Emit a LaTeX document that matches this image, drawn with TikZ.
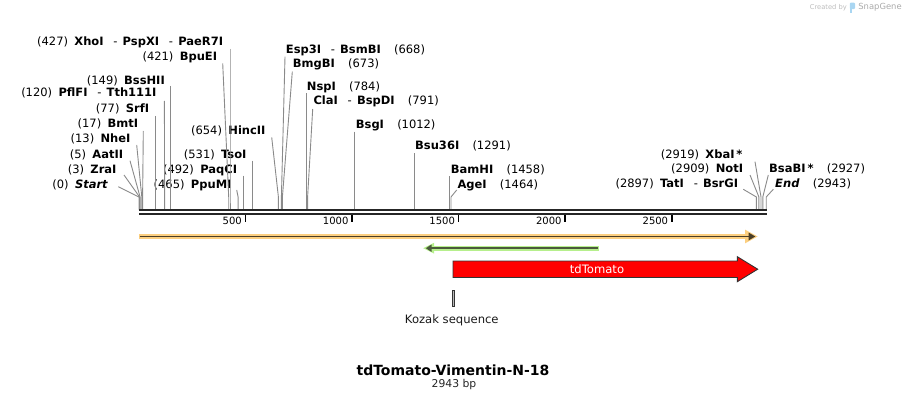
\documentclass[tikz,border=0pt]{standalone}
\usepackage{fontspec}
\setmainfont{DejaVu Sans}
\definecolor{linegray}{HTML}{8A8A8A}
\definecolor{bbcol}{HTML}{262626}
\definecolor{orlight}{HTML}{FCCF80}
\definecolor{ordark}{HTML}{4A3E28}
\definecolor{grlight}{HTML}{B6EF8C}
\definecolor{grdark}{HTML}{4B5A3C}
\definecolor{arrowedge}{HTML}{333333}
\definecolor{wmgray}{HTML}{BDBDBD}
\definecolor{logoblue}{HTML}{A9D6F2}
\newcommand\lgap{\hspace{0.55em}}
\newcommand\rgap{\hspace{1.15em}}
\newcommand\mydash{\hspace{0.85em}-\hspace{0.45em}}
\begin{document}
\begin{tikzpicture}[x=1pt,y=-1pt,
  lab/.style={inner sep=0pt, font=\fontsize{11.5}{13}\selectfont, text height=8.4pt, text depth=2pt},
  labL/.style={lab, anchor=east},
  labR/.style={lab, anchor=west},
  conn/.style={draw=linegray, line width=0.9pt},
  tickmark/.style={draw=black, line width=1.5pt},
  ticklab/.style={inner sep=0pt, anchor=east, font=\fontsize{10}{12}\selectfont},
  plain/.style={inner sep=0pt},
]
\useasboundingbox (0,0) rectangle (907,401);

% stub positions (bp -> x)
\foreach \n/\x in {0/139.0,3/139.6,5/140.1,13/141.8,17/142.6,77/155.4,120/164.6,149/170.8,
  421/228.7,427/230.0,465/238.1,492/243.8,531/252.2,654/278.4,668/281.4,673/282.4,
  784/306.1,791/307.6,1012/354.7,1291/414.1,1458/449.7,1464/451.0,
  2897/756.4,2909/758.9,2919/761.0,2927/762.8,2943/766.2}{
  \coordinate (t\n) at (\x,197);
  \coordinate (b\n) at (\x,209.5);
}

% labels (left of their lines)
\node[labL] (l427) at (223.3,42.7) {(427)\lgap\textbf{XhoI}\mydash\textbf{PspXI}\mydash\textbf{PaeR7I}};
\node[labL] (l421) at (217.3,57.7) {(421)\lgap\textbf{BpuEI}};
\node[labL] (l149) at (165.0,81.0) {(149)\lgap\textbf{BssHII}};
\node[labL] (l120) at (156.7,93.3) {(120)\lgap\textbf{PflFI}\mydash\textbf{Tth111I}};
\node[labL] (l77) at (149.3,109.3) {(77)\lgap\textbf{SrfI}};
\node[labL] (l17) at (138.3,124.7) {(17)\lgap\textbf{BmtI}};
\node[labL] (l13) at (130.7,139.3) {(13)\lgap\textbf{NheI}};
\node[labL] (l5) at (123.3,155.0) {(5)\lgap\textbf{AatII}};
\node[labL] (l3) at (116.7,170.0) {(3)\lgap\textbf{ZraI}};
\node[labL] (l0) at (108.3,185.0) {(0)\lgap\textbf{\itshape Start}};
\node[labL] (l654) at (265.7,131.7) {(654)\lgap\textbf{HincII}};
\node[labL] (l531) at (246.7,155.0) {(531)\lgap\textbf{TsoI}};
\node[labL] (l492) at (237.3,170.0) {(492)\lgap\textbf{PaqCI}};
\node[labL] (l465) at (231.7,185.0) {(465)\lgap\textbf{PpuMI}};
\node[labL] (l2919) at (742.7,155.0) {(2919)\lgap\textbf{XbaI\,*}};
\node[labL] (l2909) at (743.3,169.3) {(2909)\lgap\textbf{NotI}};
\node[labL] (l2897) at (738.3,184.0) {(2897)\lgap\textbf{TatI}\mydash\textbf{BsrGI}};

% labels (right of their lines)
\node[labR] (l668) at (285.7,50.0) {\textbf{Esp3I}\mydash\textbf{BsmBI}\rgap(668)};
\node[labR] (l673) at (292.7,64.3) {\textbf{BmgBI}\rgap(673)};
\node[labR] (l784) at (306.7,87.7) {\textbf{NspI}\rgap(784)};
\node[labR] (l791) at (313.3,101.7) {\textbf{ClaI}\mydash\textbf{BspDI}\rgap(791)};
\node[labR] (l1012) at (355.7,125.7) {\textbf{BsgI}\rgap(1012)};
\node[labR] (l1291) at (415.0,146.7) {\textbf{Bsu36I}\rgap(1291)};
\node[labR] (l1458) at (450.7,170.0) {\textbf{BamHI}\rgap(1458)};
\node[labR] (l1464) at (457.3,185.0) {\textbf{AgeI}\rgap(1464)};
\node[labR] (l2927) at (769.0,169.3) {\textbf{BsaBI\,*}\rgap(2927)};
\node[labR] (l2943) at (775.0,184.0) {\textbf{\itshape End}\rgap(2943)};

% connector start points near labels
\coordinate (s427) at (230.0,49.0);
\coordinate (s421) at (222.7,63.3);
\coordinate (s149) at (170.8,86.0);
\coordinate (s120) at (164.4,101.0);
\coordinate (s77) at (155.4,116.0);
\coordinate (s17) at (143.3,131.0);
\coordinate (s13) at (136.7,145.0);
\coordinate (s5) at (130.0,160.7);
\coordinate (s3) at (124.0,175.0);
\coordinate (s0) at (118.3,186.7);
\coordinate (s654) at (271.7,137.3);
\coordinate (s531) at (252.2,160.7);
\coordinate (s492) at (243.8,175.7);
\coordinate (s465) at (236.7,190.0);
\coordinate (s668) at (285.0,56.7);
\coordinate (s673) at (292.3,71.7);
\coordinate (s784) at (306.1,93.3);
\coordinate (s791) at (312.7,109.0);
\coordinate (s1012) at (354.7,131.7);
\coordinate (s1291) at (414.1,153.3);
\coordinate (s1458) at (449.7,176.0);
\coordinate (s1464) at (456.7,190.0);
\coordinate (s2919) at (755.0,161.7);
\coordinate (s2909) at (750.0,175.0);
\coordinate (s2897) at (743.3,189.3);
\coordinate (s2927) at (768.3,175.0);
\coordinate (s2943) at (773.3,189.3);

\foreach \n in {0,3,5,13,17,77,120,149,421,427,465,492,531,654,668,673,784,791,1012,1291,1458,1464,2897,2909,2919,2927,2943}{
  \draw[conn] (s\n) -- (t\n) -- (b\n);
}

% backbone
\coordinate (bbL) at (139,210);
\coordinate (bbR) at (766.8,210);
\draw[draw=bbcol, line width=2pt] (bbL) -- (bbR);
\draw[draw=bbcol, line width=2.2pt] ([yshift=-3.9pt]bbL) -- ([yshift=-3.9pt]bbR);

% ruler ticks
\foreach \v/\x in {500/245.5,1000/352.1,1500/458.6,2000/565.2,2500/671.8}{
  \draw[tickmark] (\x,215) -- (\x,222.3);
  \node[ticklab] at (\x-3.5,220.7) {\v};
}

% orange full-length feature
\fill[orlight] (139,234.0) rectangle (749,239.0);
\fill[orlight] (745,229.6) -- (757.6,236.5) -- (745,243.4) -- cycle;
\draw[draw=ordark, line width=1.7pt] (139.5,236.5) -- (750,236.5);
\fill[ordark] (748.5,232.5) -- (755.3,236.5) -- (748.5,240.5) -- cycle;

% green reverse feature
\fill[grlight] (430,245.7) rectangle (599,250.7);
\fill[grlight] (434,242.8) -- (423.2,248.2) -- (434,253.6) -- cycle;
\draw[draw=grdark, line width=1.7pt] (429,248.2) -- (597.6,248.2);
\fill[grdark] (431.5,244.5) -- (425.8,248.2) -- (431.5,251.9) -- cycle;

% tdTomato arrow
\draw[fill=red, draw=arrowedge, line width=0.9pt]
  (453,261) -- (737.3,261) -- (737.3,256.7) -- (757.7,269.2) -- (737.3,281.7) -- (737.3,277.5) -- (453,277.5) -- cycle;
\node[plain, text=white, font=\fontsize{11.6}{13}\selectfont] (tdt) at (597,269.2) {tdTomato};

% Kozak sequence
\draw[draw=arrowedge, fill=gray!55, line width=0.7pt] (452.2,290) rectangle (454.6,306.7);
\node[plain, font=\fontsize{11.6}{13}\selectfont, text=black!90] (kozak) at (451.8,320) {Kozak sequence};

% title
\node[plain, font=\fontsize{14}{16}\bfseries] (title) at (453,370) {tdTomato-Vimentin-N-18};
\node[plain, font=\fontsize{10.8}{12}\selectfont, text=black!85] (bp) at (454,384.3) {2943 bp};

% watermark
\node[plain, font=\fontsize{6.7}{8}\selectfont, text=wmgray] (wm1) at (828.3,7.3) {Created by};
\fill[logoblue, rounded corners=1pt] (849.8,2.6) rectangle (855,9.2);
\fill[logoblue] (849.8,6) rectangle (852.2,12.8);
\node[plain, font=\fontsize{8.4}{10}\selectfont, text=wmgray!90!black] (wm2) at (880,7.3) {SnapGene};
\end{tikzpicture}
\end{document}
